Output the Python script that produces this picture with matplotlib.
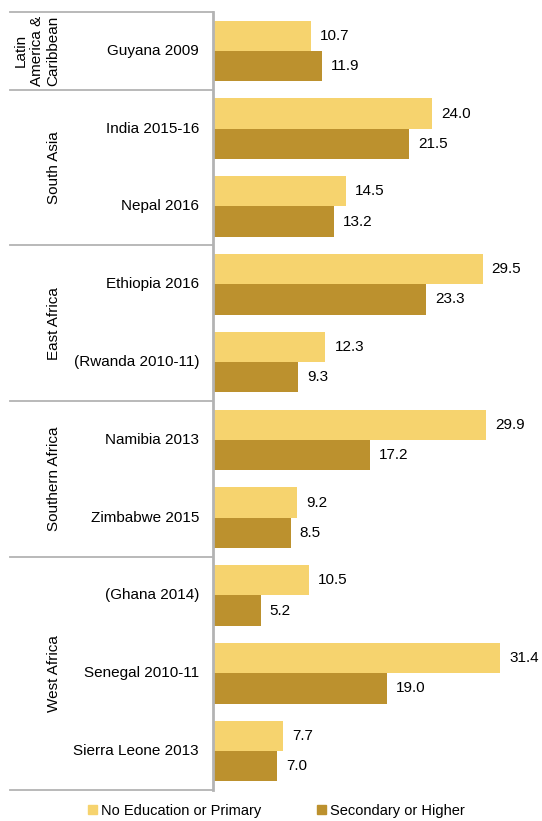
import matplotlib.pyplot as plt
import numpy as np
from matplotlib.lines import Line2D
from matplotlib.patches import Patch

plt.rcParams["font.family"] = ["Liberation Sans", "DejaVu Sans"]

LIGHT, DARK, RULE = "#F6D36E", "#BC912E", "#B3B3B3"

countries = ["Guyana 2009", "India 2015-16", "Nepal 2016", "Ethiopia 2016", "(Rwanda 2010-11)",
             "Namibia 2013", "Zimbabwe 2015", "(Ghana 2014)", "Senegal 2010-11", "Sierra Leone 2013"]
no_edu_primary = [10.7, 24.0, 14.5, 29.5, 12.3, 29.9, 9.2, 10.5, 31.4, 7.7]
secondary_higher = [11.9, 21.5, 13.2, 23.3, 9.3, 17.2, 8.5, 5.2, 19.0, 7.0]
regions = ["Latin\nAmerica &\nCaribbean", "South Asia", "East Africa", "Southern Africa", "West Africa"]
region_sizes = [1, 2, 2, 2, 3]

fig = plt.figure(figsize=(5.42, 8.21), dpi=100)
ax = fig.add_axes([213 / 542, 1 - 790 / 821, 1 - 213 / 542, 778 / 821])

n = len(countries)
y = np.arange(n)
h = 0.39
ax.barh(y - h / 2, no_edu_primary, h, color=LIGHT, label="No Education or Primary")
ax.barh(y + h / 2, secondary_higher, h, color=DARK, label="Secondary or Higher")
for i in range(n):
    ax.text(no_edu_primary[i] + 1.0, y[i] - h / 2, f"{no_edu_primary[i]:.1f}", va="center", ha="left", fontsize=11)
    ax.text(secondary_higher[i] + 1.0, y[i] + h / 2, f"{secondary_higher[i]:.1f}", va="center", ha="left", fontsize=11)

ax.set_xlim(0, 36)
ax.set_ylim(n - 0.5, -0.5)
ax.set_xticks([]); ax.set_yticks([])
for s in ["top", "right", "bottom"]:
    ax.spines[s].set_visible(False)
ax.spines["left"].set_color(RULE)
ax.spines["left"].set_linewidth(2)

# country labels and region bands to the left of the axis
to_fig = lambda yy: ax.transData.transform((0, yy))[1] / fig.dpi / 8.21
for i, c in enumerate(countries):
    fig.text(199 / 542, to_fig(y[i]), c, ha="right", va="center", fontsize=11)

start = 0
edges = [start]
for r, k in zip(regions, region_sizes):
    mid = start + k / 2 - 0.5
    xr = 37 if "\n" in r else 54
    fig.text(xr / 542, to_fig(mid), r, rotation=90, ha="center", va="center", fontsize=11,
             linespacing=1.25)
    start += k
    edges.append(start)
for e in edges:
    yy = to_fig(e - 0.5)
    fig.add_artist(Line2D([10 / 542, 213 / 542], [yy, yy], color=RULE, lw=1.3))

handles = [Patch(color=LIGHT), Patch(color=DARK)]
fig.legend(handles, ["No Education or Primary", "Secondary or Higher"], loc="lower center",
           bbox_to_anchor=(0.51, -0.012), ncol=2, frameon=False, fontsize=10.5,
           handlelength=0.6, handleheight=0.6, handletextpad=0.3, columnspacing=3.8)

fig.savefig("out.png", dpi=100)
